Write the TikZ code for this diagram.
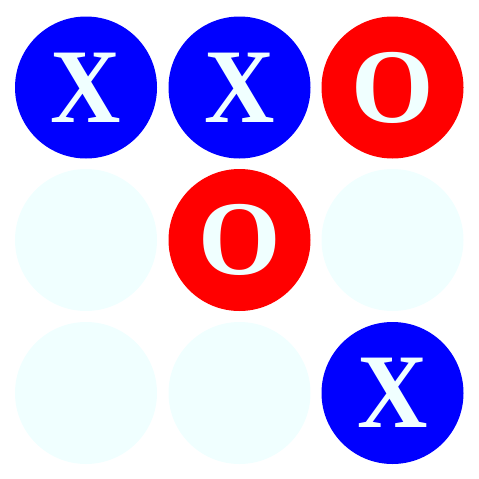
\documentclass[tikz,border=0pt]{standalone}
\usepackage{fontspec}
\setmainfont{Liberation Serif}
\definecolor{cblue}{RGB}{0,0,255}
\definecolor{cred}{RGB}{255,0,0}
\definecolor{cazure}{RGB}{240,255,255}
\begin{document}
\begin{tikzpicture}[x=1pt,y=-1pt,
  cell/.style={circle,minimum size=142pt,inner sep=0pt,draw=none},
  xcell/.style={cell,fill=cblue},
  ocell/.style={cell,fill=cred},
  ecell/.style={cell,fill=cazure}]
\tikzset{glyph/.style={inner sep=0pt,text=cazure,font=\fontsize{106}{106}\selectfont\bfseries}}
\useasboundingbox (0,0) rectangle (479,479);
\node[xcell] (c11) at (86,87.5) {};
\node[xcell] (c12) at (239.5,87.5) {};
\node[ocell] (c13) at (392.5,87.5) {};
\node[ecell] (c21) at (86,240) {};
\node[ocell] (c22) at (239.5,240) {};
\node[ecell] (c23) at (392.5,240) {};
\node[ecell] (c31) at (86,393) {};
\node[ecell] (c32) at (239.5,393) {};
\node[xcell] (c33) at (392.5,393) {};
\node[glyph,xscale=0.92] (t11) at (c11.center) {X};
\node[glyph,xscale=0.92] (t12) at (c12.center) {X};
\node[glyph] (t13) at (c13.center) {O};
\node[glyph] (t22) at (c22.center) {O};
\node[glyph,xscale=0.92] (t33) at (c33.center) {X};
\end{tikzpicture}
\end{document}
